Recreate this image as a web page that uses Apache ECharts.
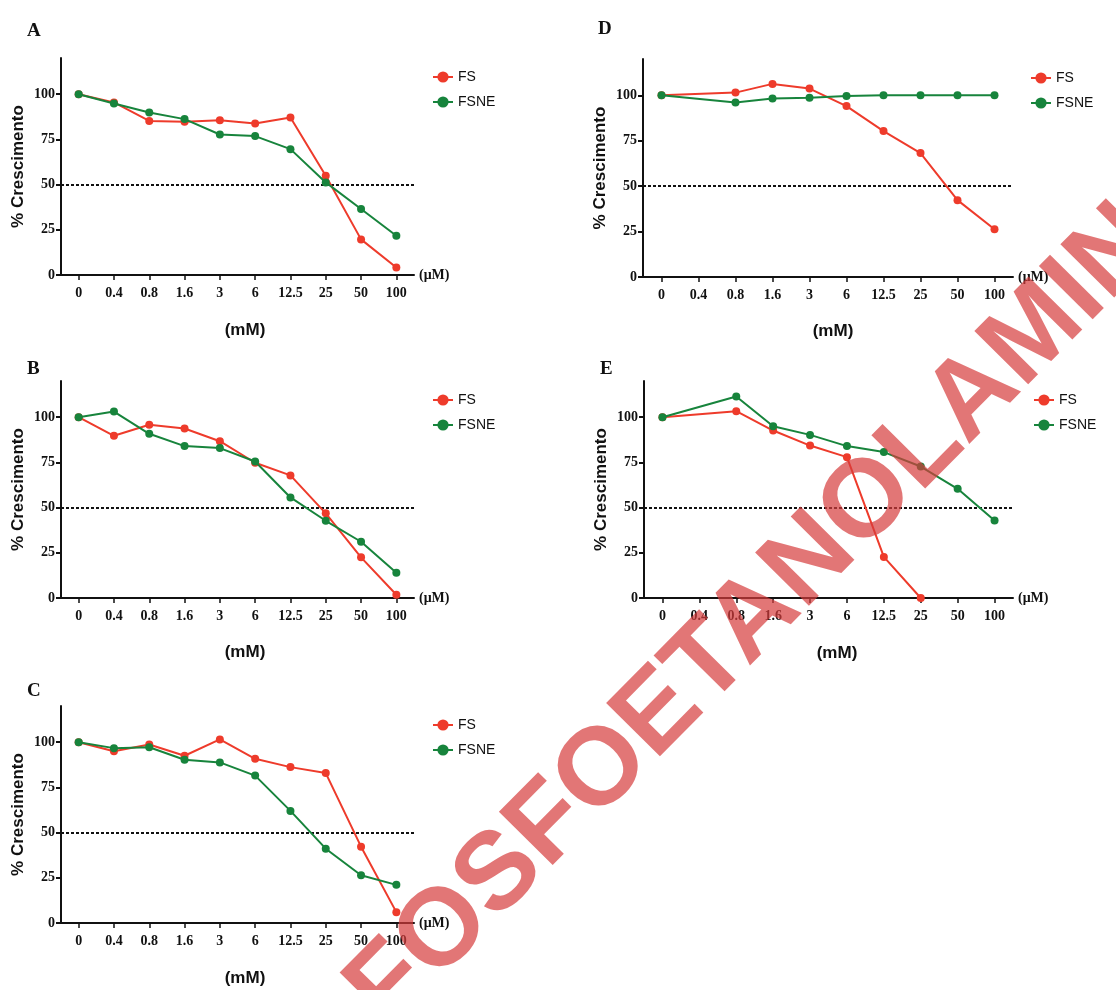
<!DOCTYPE html>
<html>
<head>
<meta charset="utf-8">
<script src="https://cdn.jsdelivr.net/npm/echarts@6/dist/echarts.min.js"></script>
<style>
html,body{margin:0;padding:0;background:#fff;}
#chart{width:1116px;height:990px;}
</style>
</head>
<body>
<div id="chart"></div>
<script>
const categories = ['0','0.4','0.8','1.6','3','6','12.5','25','50','100'];
const yTicks = [0, 25, 50, 75, 100];
const panelLabels = ['A','B','C','D','E'];
const seriesNames = ['FS','FSNE'];
const xUnitLabel = '(μM)';
const xTitle = '(mM)';
const yTitle = '% Crescimento';
const refLine = 50;
const watermarkText = 'FOSFOETANOLAMINA';

const A_FS   = [100, 95.4, 85.2, 84.8, 85.6, 83.8, 87.1, 54.9, 19.7, 4.1];
const A_FSNE = [100, 94.8, 89.9, 86.2, 77.7, 76.8, 69.6, 51.2, 36.5, 21.7];
const B_FS   = [100, 89.7, 95.8, 93.7, 86.7, 74.8, 67.8, 46.8, 22.5, 1.8];
const B_FSNE = [100, 103.1, 90.8, 84.0, 82.9, 75.5, 55.6, 42.7, 31.1, 14.0];
const C_FS   = [100, 95.0, 98.7, 92.5, 101.5, 90.8, 86.2, 82.9, 42.2, 6.0];
const C_FSNE = [100, 96.7, 97.2, 90.3, 88.8, 81.5, 62.0, 41.1, 26.4, 21.1];
const D_FS   = [100, null, 101.5, 106.3, 103.7, 94.1, 80.3, 68.2, 42.3, 26.3];
const D_FSNE = [100, null, 96.0, 98.2, 98.7, 99.6, 100, 100, 100, 100];
const E_FS   = [100, null, 103.3, 92.6, 84.3, 77.9, 22.7, 0, null, null];
const E_FSNE = [100, null, 111.4, 95.0, 90.2, 84.0, 80.7, 72.7, 60.4, 42.9];

const panelData = [[A_FS, A_FSNE],[B_FS, B_FSNE],[C_FS, C_FSNE],[D_FS, D_FSNE],[E_FS, E_FSNE]];

const colors = ['#ee3b2b', '#17843c'];
const serif = '"Liberation Serif","Times New Roman",serif';
const sans = '"Liberation Sans",Arial,sans-serif';

// layout (pixels)
const grids = [
  {left: 61, top: 58, width: 353, height: 217},
  {left: 61, top: 381, width: 353, height: 217},
  {left: 61, top: 706, width: 353, height: 217},
  {left: 643, top: 59, width: 370, height: 218},
  {left: 644, top: 381, width: 369, height: 217}
];
const titlePos = [
  {left: 22, top: 17}, {left: 22, top: 355}, {left: 22, top: 677},
  {left: 593, top: 15}, {left: 595, top: 355}
];
const legendPos = [
  {left: 427, top: 65}, {left: 427, top: 388}, {left: 427, top: 713},
  {left: 1025, top: 66}, {left: 1028, top: 388}
];
const mmPos = [
  {x: 245, y: 330}, {x: 245, y: 652}, {x: 245, y: 978},
  {x: 833, y: 331}, {x: 837, y: 653}
];

const option = {
  backgroundColor: '#fff',
  animation: false,
  title: [], grid: [], xAxis: [], yAxis: [], legend: [], series: [], graphic: []
};

for (let i = 0; i < 5; i++) {
  option.title.push({
    text: panelLabels[i], left: titlePos[i].left, top: titlePos[i].top,
    textStyle: {fontFamily: serif, fontWeight: 'bold', fontSize: 19, color: '#111'}
  });
  option.grid.push(Object.assign({containLabel: false}, grids[i]));
  option.xAxis.push({
    type: 'category', gridIndex: i, data: categories, boundaryGap: true,
    name: xUnitLabel, nameLocation: 'end', nameGap: 5,
    nameTextStyle: {fontFamily: serif, fontWeight: 'bold', fontSize: 14, color: '#111'},
    axisLine: {lineStyle: {color: '#111', width: 2}},
    axisTick: {show: true, alignWithLabel: true, length: 5, lineStyle: {color: '#111', width: 1.5}},
    axisLabel: {margin: 11, fontFamily: serif, fontWeight: 'bold', fontSize: 14, color: '#111', interval: 0},
    splitLine: {show: false}
  });
  option.yAxis.push({
    type: 'value', gridIndex: i, min: 0, max: 120,
    name: yTitle, nameLocation: 'middle', nameRotate: 90, nameGap: 34,
    nameTextStyle: {fontFamily: sans, fontWeight: 'bold', fontSize: 17, color: '#111'},
    axisLine: {show: true, lineStyle: {color: '#111', width: 2}},
    axisTick: {show: true, length: 5, customValues: yTicks, lineStyle: {color: '#111', width: 2}},
    axisLabel: {margin: 6, customValues: yTicks, fontFamily: serif, fontWeight: 'bold', fontSize: 14, color: '#111'},
    splitLine: {show: false}
  });
  option.legend.push({
    orient: 'vertical', left: legendPos[i].left, top: legendPos[i].top,
    itemWidth: 20, itemHeight: 14, itemGap: 11,
    data: [seriesNames[0] + (i ? '\u200B'.repeat(i) : ''), seriesNames[1] + (i ? '\u200B'.repeat(i) : '')],
    textStyle: {fontFamily: sans, fontSize: 14, color: '#111'},
    formatter: function (n) { return n.replace(/\u200B/g, ''); }
  });
  for (let s = 0; s < 2; s++) {
    const ser = {
      type: 'line', name: seriesNames[s] + (i ? '\u200B'.repeat(i) : ''),
      xAxisIndex: i, yAxisIndex: i, data: panelData[i][s],
      connectNulls: true, symbol: 'circle', symbolSize: 8,
      color: colors[s],
      lineStyle: {width: 2, color: colors[s]},
      itemStyle: {color: colors[s]},
      z: 3 + s
    };
    if (s === 0) {
      ser.markLine = {
        silent: true, symbol: 'none', label: {show: false},
        lineStyle: {color: '#111', type: [3, 2], width: 2},
        data: [{yAxis: refLine}], z: 1
      };
    }
    option.series.push(ser);
  }
  option.graphic.push({
    type: 'text', x: mmPos[i].x, y: mmPos[i].y,
    style: {text: xTitle, textAlign: 'center', textVerticalAlign: 'middle',
            font: 'bold 17px ' + sans, fill: '#111'}
  });
}

option.graphic.push({
  type: 'text', x: 783, y: 589, rotation: 45.3 * Math.PI / 180, z: 100,
  style: {text: watermarkText, textAlign: 'center', textVerticalAlign: 'middle',
          font: 'bold 110px ' + sans, fill: 'rgba(214,60,60,0.7)'}
});

const chart = echarts.init(document.getElementById('chart'), null, {renderer: 'canvas'});
chart.setOption(option);
</script>
</body>
</html>
